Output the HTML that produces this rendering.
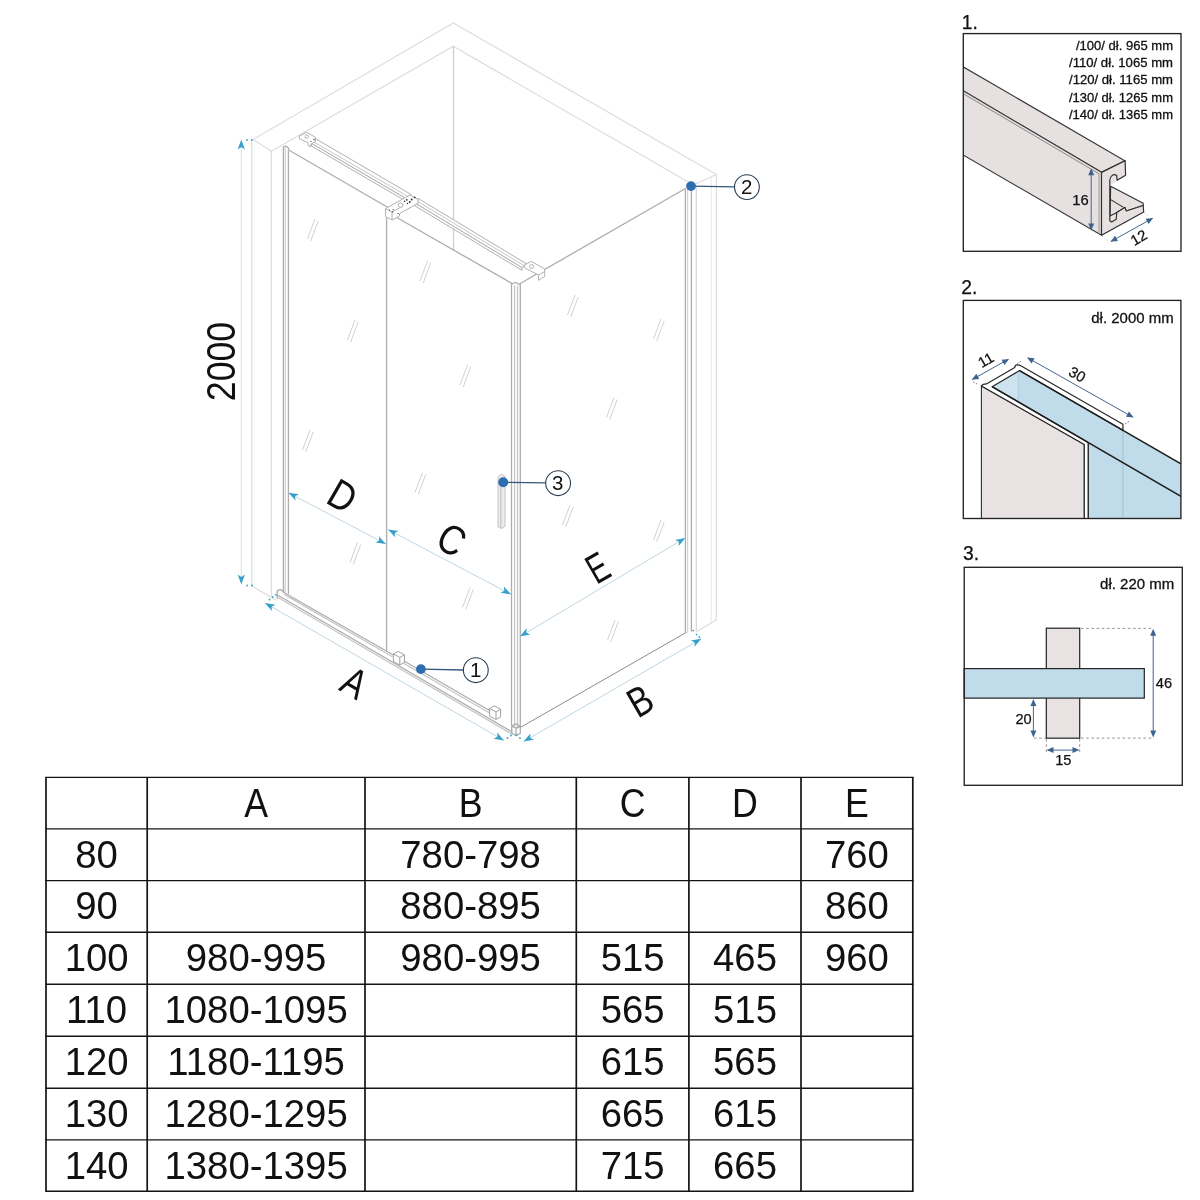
<!DOCTYPE html>
<html><head><meta charset="utf-8"><title>Shower cabin dimensions</title>
<style>
html,body{margin:0;padding:0;background:#fff;}
body{width:1200px;height:1200px;overflow:hidden;font-family:"Liberation Sans",sans-serif;}
svg{display:block;will-change:transform}
text{font-family:"Liberation Sans",sans-serif;}
</style></head><body>
<svg width="1200" height="1200" viewBox="0 0 1200 1200">
<rect width="1200" height="1200" fill="#fff"/>
<defs>
<path id="ah" d="M0,0 L-10,-3.6 L-7.5,0 L-10,3.6 Z"/>
<path id="ahd" d="M0,0 L-7,-3 L-7,3 Z"/>
</defs>
<!-- MAIN DRAWING -->
<g id="walls" fill="none" stroke="#dddddd" stroke-width="1.2" stroke-linecap="round">
  <polyline points="253,139.5 453.3,23 716.3,174.5"/>
  <polyline points="271.3,151.3 453.3,46.3 690,183"/>
  <line x1="253" y1="139.5" x2="271.3" y2="151.3"/>
  <line x1="691" y1="186" x2="716.3" y2="174.5"/>
  <line x1="251.8" y1="140" x2="251.8" y2="586"/>
  <line x1="271.3" y1="151.3" x2="271.3" y2="596"/>
  <line x1="453.5" y1="46.3" x2="453.5" y2="250" stroke="#cdcdcd"/>
  <line x1="716.3" y1="174.5" x2="716.3" y2="620"/>
  <line x1="711.3" y1="177" x2="711.3" y2="623" stroke="#ececec"/>
  <line x1="251.8" y1="586" x2="276" y2="600"/>
  <line x1="716.3" y1="620" x2="696" y2="632"/>
</g>
<g id="glassmarks" fill="none" stroke="#d2d2d2" stroke-width="1">
  <path d="M315,219 l-7.5,20 M318.2,221 l-7.5,20"/>
  <path d="M427.5,261 l-7.5,20 M430.7,263 l-7.5,20"/>
  <path d="M355,320 l-7.5,20 M358.2,322 l-7.5,20"/>
  <path d="M467.5,365 l-7.5,20 M470.7,367 l-7.5,20"/>
  <path d="M575,295 l-7.5,20 M578.2,297 l-7.5,20"/>
  <path d="M661,319 l-7.5,20 M664.2,321 l-7.5,20"/>
  <path d="M310,430 l-7.5,20 M313.2,432 l-7.5,20"/>
  <path d="M422.5,472.5 l-7.5,20 M425.7,474.5 l-7.5,20"/>
  <path d="M357.5,542.5 l-7.5,20 M360.7,544.5 l-7.5,20"/>
  <path d="M470,587.5 l-7.5,20 M473.2,589.5 l-7.5,20"/>
  <path d="M614,397.5 l-7.5,20 M617.2,399.5 l-7.5,20"/>
  <path d="M570,505 l-7.5,20 M573.2,507 l-7.5,20"/>
  <path d="M661,520 l-7.5,20 M664.2,522 l-7.5,20"/>
  <path d="M615,620 l-7.5,20 M618.2,622 l-7.5,20"/>
</g>
<g id="enclosure" fill="none" stroke="#adadad" stroke-width="1.3" stroke-linecap="round">
  <!-- left wall profile -->
  <line x1="283.4" y1="147" x2="283.4" y2="591"/>
  <line x1="285.3" y1="148" x2="285.3" y2="592" stroke="#d4d4d4"/>
  <line x1="288.4" y1="150" x2="288.4" y2="593.5"/>
  <path d="M283.4,147 l2.5,-1 l3,2.5"/>
  <!-- fixed panel top edge -->
  <line x1="288.7" y1="150" x2="388" y2="207.5"/>
  <!-- door -->
  <line x1="386.6" y1="218.5" x2="386.6" y2="650.5"/>
  <line x1="395" y1="216.5" x2="512" y2="283.5"/>
  <!-- corner profile -->
  <line x1="511.5" y1="284" x2="511.5" y2="725"/>
  <line x1="514.6" y1="286" x2="514.6" y2="727" stroke="#c6c6c6"/>
  <line x1="517.6" y1="286" x2="517.6" y2="728" stroke="#c6c6c6"/>
  <line x1="520.3" y1="284.5" x2="520.3" y2="727.5"/>
  <path d="M511.5,284 l4,-1.6 l4.8,2.2"/>
  <!-- side panel -->
  <line x1="520.3" y1="283.5" x2="685" y2="188.8"/>
  <line x1="520.3" y1="727.5" x2="686" y2="632.6" stroke="#8c8c8c" stroke-width="1"/>
  <!-- right wall profile -->
  <line x1="685.4" y1="189" x2="685.4" y2="632.5"/>
  <line x1="687.6" y1="189" x2="687.6" y2="632.5" stroke="#d4d4d4"/>
  <line x1="691.4" y1="190" x2="691.4" y2="631"/>
  <line x1="696.3" y1="188" x2="696.3" y2="630" stroke="#dadada"/>
  <!-- bottom rail -->
  <line x1="282.5" y1="591.7" x2="393.3" y2="655"/>
  <line x1="284.5" y1="594.6" x2="392" y2="656.5" stroke="#c6c6c6"/>
  <line x1="277.5" y1="595" x2="512" y2="731.8"/>
  <line x1="278" y1="597.5" x2="512" y2="734.2" stroke="#c6c6c6"/>
  <line x1="404" y1="661" x2="493" y2="712.5"/>
  <line x1="404" y1="663.5" x2="493" y2="715" stroke="#c6c6c6"/>
  <path d="M277.2,598 v-7 l3,-1.6 l3.5,2"/>
  <!-- bottom corner cube -->
  <path d="M511.7,733 v-7 l4.3,-2 l4.3,2.4 v7 l-4.3,2.2 z M511.7,726 l4.3,2.2 l4.3,-2 M516,728.2 v7.2"/>
</g>
<g id="rail" fill="#fff" stroke="#b0b0b0" stroke-width="1" stroke-linejoin="round">
  <!-- top rail -->
  <path d="M315.6,138.7 L411.3,194.6 L405.6,198.3 L311.3,143.3 Z"/>
  <line x1="312.5" y1="141.2" x2="408.3" y2="196.6" stroke="#c6c6c6"/>
  <path d="M311.3,143.3 L405.6,198.3 L405.6,201 L311.3,146 Z"/>
  <path d="M418,198.3 L526.7,264 L522,267.6 L414,202.5 Z"/>
  <line x1="416" y1="200.4" x2="524.3" y2="265.8" stroke="#c6c6c6"/>
  <path d="M414,202.5 L522,267.6 L522,270.3 L414,205.3 Z"/>
  <!-- left bracket -->
  <path d="M299.4,136 L306.5,132.3 L315.5,137.3 L315.5,141.5 L310.8,144.2 L310.8,146.8 L308,145.5 L308,142.5 L299.4,138.8 Z"/>
  <circle cx="306.8" cy="136.6" r="1.7"/>
  <!-- middle bracket -->
  <path d="M385.6,208.5 L405.5,197.5 L410,195 L418.2,199.6 L418.2,203.2 L399.5,213.6 L399.5,216 L392,220 L385.6,216.6 Z"/>
  <path d="M385.6,208.5 L392,212 L392,220 M392,212 L399.5,208"/>
  <circle cx="400.6" cy="205.2" r="2.3"/>
  <!-- right bracket -->
  <path d="M524.3,265 L531.5,261.4 L544.7,269 L544.7,276.5 L541.3,278.5 L538.5,280.3 L538.5,275 L524.3,267.6 Z"/>
  <circle cx="531.6" cy="266.5" r="2"/>
  <path d="M538.5,275 L544.7,271.6"/>
</g>
<g fill="#2b2b2b">
  <circle cx="414.7" cy="197.3" r="0.9"/><circle cx="411.7" cy="199.5" r="0.9"/><circle cx="406.8" cy="199.8" r="0.9"/><circle cx="409.8" cy="202" r="0.9"/>
  <circle cx="404.5" cy="201.3" r="0.75"/><circle cx="407.5" cy="203.5" r="0.75"/>
  <circle cx="393.2" cy="209.5" r="0.6"/><circle cx="389.5" cy="210" r="0.6"/><circle cx="392.5" cy="211.8" r="0.6"/><circle cx="398" cy="213.5" r="0.6"/>
  <circle cx="314" cy="139.5" r="0.7"/><circle cx="311" cy="141.5" r="0.6"/>
</g>
<g id="stoppers" fill="#fff" stroke="#a2a2a2" stroke-width="1" stroke-linejoin="round">
  <path d="M393.4,654 l4.6,-2.6 l6.4,3.4 v7.6 l-4.6,2.6 l-6.4,-3.4 z M393.4,654 l6.4,3.4 l4.6,-2.6 M399.8,657.4 v7.6"/>
  <path d="M489.6,708.5 l4.6,-2.6 l6.4,3.4 v7.6 l-4.6,2.6 l-6.4,-3.4 z M489.6,708.5 l6.4,3.4 l4.6,-2.6 M496,711.9 v7.6"/>
  <!-- handle -->
  <path d="M498,476.6 l3.2,-2.2 l3.8,1.8 v50 l-3.4,2.4 l-3.6,-1.8 z" fill="#ececec" stroke="#c4c4c4"/><path d="M500.8,478 v50" stroke="#cfcfcf" stroke-width="1.6"/>
</g>
<!-- dimensions -->
<g id="dims" fill="none" stroke="#bcd8e2" stroke-width="1">
  <line x1="241.3" y1="142" x2="241.3" y2="582" stroke="#d3e3ea"/>
  <line x1="288.4" y1="492.7" x2="385.9" y2="544"/>
  <line x1="388" y1="529.5" x2="511" y2="594.3"/>
  <line x1="519.9" y1="636.5" x2="685.4" y2="537.9"/>
  <line x1="265" y1="603" x2="504" y2="740.5"/>
  <line x1="523.6" y1="741.6" x2="701.3" y2="638.7"/>
</g>
<g fill="#36a0cb">
  <use href="#ah" transform="translate(241.3,139.5) rotate(-90)"/>
  <use href="#ah" transform="translate(241.3,584.5) rotate(90)"/>
  <use href="#ah" transform="translate(288.4,492.7) rotate(207.8)"/>
  <use href="#ah" transform="translate(385.9,544) rotate(27.8)"/>
  <use href="#ah" transform="translate(388,529.5) rotate(207.8)"/>
  <use href="#ah" transform="translate(511,594.3) rotate(27.8)"/>
  <use href="#ah" transform="translate(519.9,636.5) rotate(149.2)"/>
  <use href="#ah" transform="translate(685.4,537.9) rotate(-30.8)"/>
  <use href="#ah" transform="translate(265,603) rotate(209.9)"/>
  <use href="#ah" transform="translate(504,740.5) rotate(29.9)"/>
  <use href="#ah" transform="translate(523.6,741.6) rotate(149.9)"/>
  <use href="#ah" transform="translate(701.3,638.7) rotate(-30.1)"/>
  <!-- dots -->
  <circle cx="247" cy="140" r="0.9"/><circle cx="251.8" cy="140" r="0.9"/>
  <circle cx="247" cy="585.5" r="0.9"/><circle cx="252" cy="585.5" r="0.9"/>
  <circle cx="269.5" cy="599.5" r="0.9"/><circle cx="272.7" cy="597" r="0.9"/><circle cx="275.8" cy="594.8" r="0.9"/>
  <circle cx="507.5" cy="738" r="0.9"/><circle cx="511" cy="735.5" r="0.9"/><circle cx="516.5" cy="735.3" r="0.9"/><circle cx="520" cy="738" r="0.9"/>
  <circle cx="693.3" cy="630.6" r="0.9"/><circle cx="696.6" cy="634.6" r="0.9"/><circle cx="699.3" cy="637" r="0.9"/>
</g>
<!-- callouts -->
<g>
  <line x1="691" y1="186.2" x2="734.5" y2="186.9" stroke="#34587f" stroke-width="1.3"/>
  <circle cx="691" cy="186.1" r="4.9" fill="#2c6eae"/>
  <circle cx="746.9" cy="187.1" r="12.4" fill="#fff" stroke="#2a3f52" stroke-width="1.1"/>
  <text x="746.6" y="193.9" font-size="20.5" text-anchor="middle" fill="#111">2</text>

  <line x1="503.2" y1="482.4" x2="546" y2="482.9" stroke="#34587f" stroke-width="1.3"/>
  <circle cx="503.2" cy="482.2" r="5" fill="#2c6eae"/>
  <circle cx="558.1" cy="483.2" r="12.4" fill="#fff" stroke="#2a3f52" stroke-width="1.1"/>
  <text x="557.6" y="489.8" font-size="20.5" text-anchor="middle" fill="#111">3</text>

  <line x1="421" y1="669.1" x2="463.5" y2="670" stroke="#34587f" stroke-width="1.3"/>
  <circle cx="420.9" cy="669.1" r="4.9" fill="#2c6eae"/>
  <circle cx="475.8" cy="670.2" r="12.4" fill="#fff" stroke="#2a3f52" stroke-width="1.1"/>
  <text x="475.6" y="677.2" font-size="20.5" text-anchor="middle" fill="#111">1</text>
</g>
<!-- labels -->
<g fill="#111" text-anchor="middle" font-size="41.5">
  <text transform="translate(220.7,361.5) rotate(-90) scale(0.86,1)" x="0" y="14.5" font-size="41.5">2000</text>
  <text transform="translate(342.5,496) rotate(30) scale(0.85,1)" x="0" y="14.3">D</text>
  <text transform="translate(451.6,539.7) rotate(30) scale(0.85,1)" x="0" y="14.3">C</text>
  <text transform="translate(354.4,682.7) rotate(30) scale(0.8,1)" x="0" y="14.3">A</text>
  <text transform="translate(597.8,567.8) rotate(-30) scale(0.7,1)" x="0" y="14.3">E</text>
  <text transform="translate(640.3,700.8) rotate(-30) scale(0.8,1)" x="0" y="14.3">B</text>
</g>

<!-- DETAILS -->
<g font-size="19.3" fill="#111" stroke="#111" stroke-width="0.25">
  <text x="961.8" y="28.7">1.</text>
  <text x="961.2" y="293.5">2.</text>
  <text x="963" y="559.6">3.</text>
</g>
<!-- ===== box 1 ===== -->
<clipPath id="c1"><rect x="963.3" y="33.6" width="217.7" height="217.7"/></clipPath>
<g clip-path="url(#c1)" stroke-linejoin="round">
  <!-- top face -->
  <path d="M960,65 L1125.2,160.9 L1101.5,172.3 L960,88.8 Z" fill="#e6e0e0" stroke="#3a3a3a" stroke-width="1.1"/>
  <!-- front face -->
  <path d="M960,88.8 L1101.5,172.3 L1101.5,235.3 L960,153.2 Z" fill="#e6e0e0" stroke="#3a3a3a" stroke-width="1.1"/>
  <line x1="960" y1="91.8" x2="1099" y2="173.8" stroke="#7d7d7d" stroke-width="0.9"/>
  <line x1="1099" y1="173.8" x2="1099" y2="234" stroke="#8a8a8a" stroke-width="0.8"/>
  <path d="M1109.5,176 L1116.5,174.5 L1116.6,181 L1110.2,185.5 L1143.2,203.9 L1143.2,204.6 L1125.9,211 L1124.4,207.5 L1115.9,211.7 L1115.6,219.2 L1111,222 L1109.5,221.7 Z" fill="#e9e3e3"/>
  <line x1="1110.2" y1="210" x2="1115.9" y2="211.7" stroke="#2f2f2f" stroke-width="1"/>
  <!-- bottom flange top surface -->
  <path d="M1110.7,186.3 L1143.2,203.2 L1143.2,205.5 L1126.3,211 L1124.9,207.4 L1116.7,212.4 L1110,216 Z" fill="#e6e0e0" stroke="#2f2f2f" stroke-width="1.1"/>
  <line x1="1110.7" y1="199.6" x2="1123.5" y2="207.4" stroke="#2f2f2f" stroke-width="1.1"/>
  <!-- end face -->
  <path d="M1101.5,172.4 L1125.1,160.6 L1125.6,175.3 L1117.1,180.3 L1116.7,175.6 Q1114.6,173.6 1112,175.6 Q1109.8,177.4 1109.8,180 L1109.8,220.7 L1111.6,222 L1116.2,219.3 L1116.7,212.4 L1124.9,207.4 L1126.3,211 L1143.2,205.5 L1143.7,212 L1101.5,235.3 Z" fill="#e6e0e0" stroke="#2f2f2f" stroke-width="1.2"/>
</g>
<g>
  <line x1="1091.2" y1="170" x2="1091.2" y2="229" stroke="#44668f" stroke-width="1"/>
  <use href="#ahd" transform="translate(1091.2,168.2) rotate(-90)" fill="#3c648f"/>
  <use href="#ahd" transform="translate(1091.2,230.5) rotate(90)" fill="#3c648f"/>
  <line x1="1111.2" y1="241.3" x2="1152.4" y2="218.4" stroke="#44668f" stroke-width="1"/>
  <use href="#ahd" transform="translate(1110.4,241.8) rotate(150.9)" fill="#3c648f"/>
  <use href="#ahd" transform="translate(1153.2,218) rotate(-29.1)" fill="#3c648f"/>
  <path d="M1102,236 l6,4.5 M1144.5,213.5 l5,3" stroke="#b9c7d6" stroke-width="0.8" stroke-dasharray="1.5 1.5" fill="none"/>
  <text x="1080.4" y="204.9" font-size="14.8" text-anchor="middle" fill="#111" stroke="#111" stroke-width="0.25">16</text>
  <text transform="translate(1138.7,237.6) rotate(-30)" x="0" y="5.2" font-size="14.8" text-anchor="middle" fill="#111" stroke="#111" stroke-width="0.25">12</text>
</g>
<g font-size="12.6" fill="#111" text-anchor="end" stroke="#111" stroke-width="0.3">
  <text x="1173" y="49.8" textLength="97" lengthAdjust="spacingAndGlyphs">/100/ dł. 965 mm</text>
  <text x="1173" y="67.05" textLength="104" lengthAdjust="spacingAndGlyphs">/110/ dł. 1065 mm</text>
  <text x="1173" y="84.3" textLength="104" lengthAdjust="spacingAndGlyphs">/120/ dł. 1165 mm</text>
  <text x="1173" y="101.55" textLength="104" lengthAdjust="spacingAndGlyphs">/130/ dł. 1265 mm</text>
  <text x="1173" y="118.8" textLength="104" lengthAdjust="spacingAndGlyphs">/140/ dł. 1365 mm</text>
</g>
<rect x="963.3" y="33.6" width="217.7" height="217.7" fill="none" stroke="#222" stroke-width="1.35"/>

<!-- ===== box 2 ===== -->
<clipPath id="c2"><rect x="963.3" y="300.4" width="217.6" height="218.1"/></clipPath>
<g clip-path="url(#c2)" stroke-linejoin="round">
  <!-- glass -->
  <path d="M992.1,386.7 L1019.5,370.6 L1190,469 L1190,530 L1088.3,530 L1088.3,442.5 Z" fill="#c0dcea"/>
  <path d="M992.1,386.7 L1019.5,370.6 L1018.3,400.6 Z" fill="#cde3f0"/>
  <line x1="1018.3" y1="371" x2="1018.3" y2="401" stroke="#a9c6d8" stroke-width="0.8"/>
  <line x1="1122.9" y1="426" x2="1122.9" y2="520" stroke="#9dbdd0" stroke-width="0.9"/>
  <!-- gray face -->
  <path d="M981.4,385.9 L1084.3,444.4 L1084.3,530 L981.4,530 Z" fill="#e8e2e2" stroke="#2f2f2f" stroke-width="1.1"/>
  <!-- channel white top band -->
  <path d="M981.4,385.9 Q983,383.6 986.8,383.8 L1014.8,367.4 Q1015,364 1019.5,365.1 L1122.9,424.2 L1122.9,430.3 L1019.5,370.6 L992.1,386.7 L1088.3,442.5 L1088.3,530 L1084.3,530 L1084.3,444.4 Z" fill="#fff" stroke="#2a2a2a" stroke-width="1.2"/>
  <!-- glass edges -->
  <line x1="1019.5" y1="370.6" x2="1190" y2="469" stroke="#1e1e1e" stroke-width="1.5"/>
  <line x1="992.1" y1="386.7" x2="1190" y2="501.5" stroke="#1e1e1e" stroke-width="1.5"/>
  <line x1="1088.3" y1="442.5" x2="1088.3" y2="530" stroke="#2a2a2a" stroke-width="1.1"/>
</g>
<g>
  <line x1="972.6" y1="379.3" x2="1008.2" y2="359.4" stroke="#44668f" stroke-width="1"/>
  <use href="#ahd" transform="translate(971.7,379.8) rotate(150.8)" fill="#3c648f"/>
  <use href="#ahd" transform="translate(1009.1,358.9) rotate(-29.2)" fill="#3c648f"/>
  <line x1="1028" y1="358" x2="1132.6" y2="417" stroke="#44668f" stroke-width="1"/>
  <use href="#ahd" transform="translate(1027,357.4) rotate(209.4)" fill="#3c648f"/>
  <use href="#ahd" transform="translate(1133.6,417.6) rotate(29.4)" fill="#3c648f"/>
  <path d="M973,381.5 l4,2.5 M1017,364 l5,-3.5 M1125,424 l5,-3.2" stroke="#5d6f85" stroke-width="0.9" stroke-dasharray="1.6 1.6" fill="none"/>
  <text transform="translate(985.9,360) rotate(-30)" x="0" y="5.2" font-size="14.8" text-anchor="middle" fill="#111" stroke="#111" stroke-width="0.25">11</text>
  <text transform="translate(1077.3,374.3) rotate(30)" x="0" y="5.2" font-size="14.8" text-anchor="middle" fill="#111" stroke="#111" stroke-width="0.25">30</text>
  <text x="1173.6" y="322.5" font-size="15.5" text-anchor="end" fill="#111" stroke="#111" stroke-width="0.3" textLength="82.3" lengthAdjust="spacingAndGlyphs">dł. 2000 mm</text>
</g>
<rect x="963.3" y="300.4" width="217.6" height="218.1" fill="none" stroke="#222" stroke-width="1.35"/>

<!-- ===== box 3 ===== -->
<g>
  <rect x="1046.3" y="628.2" width="33.4" height="110" fill="#e8e2e2" stroke="#222" stroke-width="1.2"/>
  <rect x="964.2" y="668.6" width="180.1" height="29.5" fill="#c0dcea" stroke="#222" stroke-width="1.2"/>
  <g stroke="#8d8480" stroke-width="0.9" stroke-dasharray="2.6 2.6" fill="none">
    <line x1="1081" y1="628.4" x2="1153" y2="628.4"/>
    <line x1="1034" y1="738.1" x2="1046" y2="738.1"/>
    <line x1="1081" y1="738.1" x2="1153" y2="738.1"/>
    <line x1="1046.3" y1="739" x2="1046.3" y2="752"/>
    <line x1="1079.7" y1="739" x2="1079.7" y2="752"/>
  </g>
  <line x1="1153.2" y1="631" x2="1153.2" y2="735" stroke="#44668f" stroke-width="1"/>
  <use href="#ahd" transform="translate(1153.2,628.8) rotate(-90)" fill="#3c648f"/>
  <use href="#ahd" transform="translate(1153.2,737.6) rotate(90)" fill="#3c648f"/>
  <line x1="1033.4" y1="701" x2="1033.4" y2="735" stroke="#44668f" stroke-width="1"/>
  <use href="#ahd" transform="translate(1033.4,698.9) rotate(-90)" fill="#3c648f"/>
  <use href="#ahd" transform="translate(1033.4,737.6) rotate(90)" fill="#3c648f"/>
  <line x1="1049" y1="750.1" x2="1077" y2="750.1" stroke="#44668f" stroke-width="1"/>
  <use href="#ahd" transform="translate(1046.5,750.1) rotate(180)" fill="#3c648f"/>
  <use href="#ahd" transform="translate(1079.5,750.1) rotate(0)" fill="#3c648f"/>
  <text x="1163.9" y="688.4" font-size="14.6" text-anchor="middle" fill="#111" stroke="#111" stroke-width="0.25">46</text>
  <text x="1023.5" y="724.2" font-size="14.6" text-anchor="middle" fill="#111" stroke="#111" stroke-width="0.25">20</text>
  <text x="1063.3" y="765.4" font-size="14.6" text-anchor="middle" fill="#111" stroke="#111" stroke-width="0.25">15</text>
  <text x="1174.3" y="589.3" font-size="15.5" text-anchor="end" fill="#111" stroke="#111" stroke-width="0.3" textLength="74.2" lengthAdjust="spacingAndGlyphs">dł. 220 mm</text>
</g>
<rect x="964.2" y="567.3" width="218.1" height="218" fill="none" stroke="#222" stroke-width="1.35"/>

<!-- TABLE -->
<g stroke="#141414" fill="none">
<line x1="46" y1="777.4" x2="46" y2="1191.3" stroke-width="1.7"/>
<line x1="147.2" y1="777.4" x2="147.2" y2="1191.3" stroke-width="1.7"/>
<line x1="365" y1="777.4" x2="365" y2="1191.3" stroke-width="1.7"/>
<line x1="576.3" y1="777.4" x2="576.3" y2="1191.3" stroke-width="1.7"/>
<line x1="688.9" y1="777.4" x2="688.9" y2="1191.3" stroke-width="1.7"/>
<line x1="801" y1="777.4" x2="801" y2="1191.3" stroke-width="1.7"/>
<line x1="912.8" y1="777.4" x2="912.8" y2="1191.3" stroke-width="1.7"/>
<line x1="45.2" y1="777.4" x2="913.5999999999999" y2="777.4" stroke-width="1.4"/>
<line x1="45.2" y1="828.9" x2="913.5999999999999" y2="828.9" stroke-width="1.4"/>
<line x1="45.2" y1="880.6" x2="913.5999999999999" y2="880.6" stroke-width="1.4"/>
<line x1="45.2" y1="932.3" x2="913.5999999999999" y2="932.3" stroke-width="1.4"/>
<line x1="45.2" y1="984.3" x2="913.5999999999999" y2="984.3" stroke-width="1.4"/>
<line x1="45.2" y1="1036.3" x2="913.5999999999999" y2="1036.3" stroke-width="1.4"/>
<line x1="45.2" y1="1088.2" x2="913.5999999999999" y2="1088.2" stroke-width="1.4"/>
<line x1="45.2" y1="1139.9" x2="913.5999999999999" y2="1139.9" stroke-width="1.4"/>
<line x1="45.2" y1="1191.3" x2="913.5999999999999" y2="1191.3" stroke-width="1.4"/>
</g>
<g font-family="Liberation Sans, sans-serif" fill="#111" text-anchor="middle">
<text transform="translate(256.1,817.4) scale(0.87,1)" font-size="41">A</text>
<text transform="translate(470.6,817.4) scale(0.87,1)" font-size="41">B</text>
<text transform="translate(632.6,817.4) scale(0.87,1)" font-size="41">C</text>
<text transform="translate(745.0,817.4) scale(0.87,1)" font-size="41">D</text>
<text transform="translate(856.9,817.4) scale(0.87,1)" font-size="41">E</text>
<text transform="translate(96.6,867.6) scale(0.975,1)" font-size="39.3">80</text>
<text transform="translate(470.6,867.6) scale(0.975,1)" font-size="39.3">780-798</text>
<text transform="translate(856.9,867.6) scale(0.975,1)" font-size="39.3">760</text>
<text transform="translate(96.6,919.3) scale(0.975,1)" font-size="39.3">90</text>
<text transform="translate(470.6,919.3) scale(0.975,1)" font-size="39.3">880-895</text>
<text transform="translate(856.9,919.3) scale(0.975,1)" font-size="39.3">860</text>
<text transform="translate(96.6,971.0) scale(0.975,1)" font-size="39.3">100</text>
<text transform="translate(256.1,971.0) scale(0.975,1)" font-size="39.3">980-995</text>
<text transform="translate(470.6,971.0) scale(0.975,1)" font-size="39.3">980-995</text>
<text transform="translate(632.6,971.0) scale(0.975,1)" font-size="39.3">515</text>
<text transform="translate(745.0,971.0) scale(0.975,1)" font-size="39.3">465</text>
<text transform="translate(856.9,971.0) scale(0.975,1)" font-size="39.3">960</text>
<text transform="translate(96.6,1023.0) scale(0.975,1)" font-size="39.3">110</text>
<text transform="translate(256.1,1023.0) scale(0.975,1)" font-size="39.3">1080-1095</text>
<text transform="translate(632.6,1023.0) scale(0.975,1)" font-size="39.3">565</text>
<text transform="translate(745.0,1023.0) scale(0.975,1)" font-size="39.3">515</text>
<text transform="translate(96.6,1075.0) scale(0.975,1)" font-size="39.3">120</text>
<text transform="translate(256.1,1075.0) scale(0.975,1)" font-size="39.3">1180-1195</text>
<text transform="translate(632.6,1075.0) scale(0.975,1)" font-size="39.3">615</text>
<text transform="translate(745.0,1075.0) scale(0.975,1)" font-size="39.3">565</text>
<text transform="translate(96.6,1126.9) scale(0.975,1)" font-size="39.3">130</text>
<text transform="translate(256.1,1126.9) scale(0.975,1)" font-size="39.3">1280-1295</text>
<text transform="translate(632.6,1126.9) scale(0.975,1)" font-size="39.3">665</text>
<text transform="translate(745.0,1126.9) scale(0.975,1)" font-size="39.3">615</text>
<text transform="translate(96.6,1178.6) scale(0.975,1)" font-size="39.3">140</text>
<text transform="translate(256.1,1178.6) scale(0.975,1)" font-size="39.3">1380-1395</text>
<text transform="translate(632.6,1178.6) scale(0.975,1)" font-size="39.3">715</text>
<text transform="translate(745.0,1178.6) scale(0.975,1)" font-size="39.3">665</text>
</g>
</svg>
</body></html>
